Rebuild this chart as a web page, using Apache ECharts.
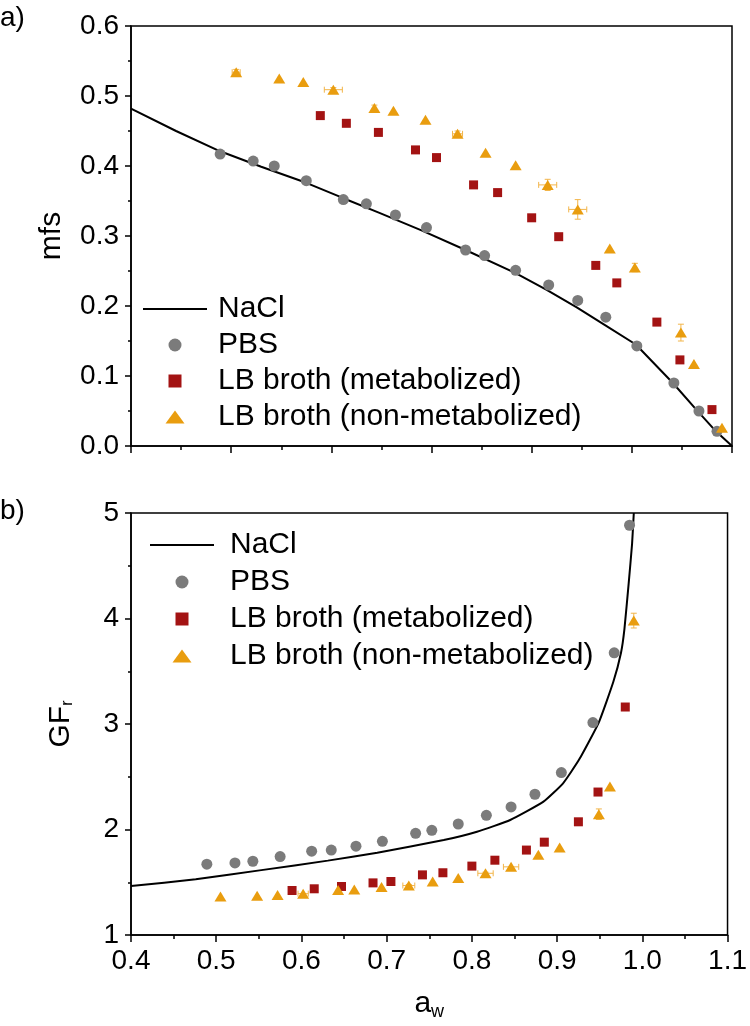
<!DOCTYPE html>
<html>
<head>
<meta charset="utf-8">
<script src="https://cdn.jsdelivr.net/npm/echarts@6/dist/echarts.min.js"></script>
<style>
html,body{margin:0;padding:0;background:#fff;}
#chart{width:750px;height:1026px;}
</style>
</head>
<body>
<div id="chart"></div>
<script>
// ---------- data ----------
const seriesNames = ['NaCl', 'PBS', 'LB broth (metabolized)', 'LB broth (non-metabolized)'];

const awPBS   = [0.489, 0.522, 0.543, 0.575, 0.612, 0.635, 0.664, 0.695, 0.734, 0.753, 0.784, 0.817, 0.846, 0.874, 0.905, 0.942, 0.967, 0.985];
const awMet   = [0.589, 0.615, 0.647, 0.684, 0.705, 0.742, 0.766, 0.800, 0.827, 0.864, 0.885, 0.925, 0.948, 0.980];
const awNon   = [0.505, 0.548, 0.572, 0.602, 0.643, 0.662, 0.694, 0.726, 0.754, 0.784, 0.816, 0.846, 0.878, 0.903, 0.949, 0.962, 0.990];

const mfsPBS  = [0.417, 0.407, 0.400, 0.379, 0.352, 0.346, 0.330, 0.312, 0.280, 0.272, 0.251, 0.230, 0.208, 0.184, 0.143, 0.090, 0.050, 0.021];
const mfsMet  = [0.472, 0.461, 0.448, 0.423, 0.412, 0.373, 0.362, 0.326, 0.299, 0.258, 0.233, 0.177, 0.123, 0.052];
const mfsNon  = [0.534, 0.525, 0.520, 0.509, 0.483, 0.479, 0.466, 0.446, 0.419, 0.401, 0.373, 0.338, 0.282, 0.255, 0.162, 0.117, 0.026];
const mfsNonErrX = [0.004, 0, 0, 0.009, 0, 0, 0, 0.005, 0, 0, 0.009, 0.009, 0, 0, 0, 0, 0];
const mfsNonErrY = [0.004, 0, 0, 0.003, 0.004, 0, 0, 0.004, 0, 0, 0.008, 0.014, 0, 0.006, 0.012, 0, 0];

const gfPBS   = [1.671, 1.683, 1.699, 1.743, 1.795, 1.805, 1.842, 1.888, 1.964, 1.992, 2.052, 2.134, 2.214, 2.334, 2.540, 3.014, 3.675, 4.884];
const gfMet   = [1.422, 1.438, 1.460, 1.494, 1.507, 1.570, 1.590, 1.653, 1.709, 1.805, 1.880, 2.073, 2.355, 3.161];
const gfNon   = [1.365, 1.373, 1.380, 1.392, 1.427, 1.431, 1.455, 1.469, 1.508, 1.540, 1.585, 1.646, 1.760, 1.830, 2.145, 2.407, 3.980];
const gfNonErrX = [0, 0, 0, 0.006, 0, 0, 0, 0.007, 0, 0, 0.009, 0.009, 0, 0, 0, 0, 0];
const gfNonErrY = [0, 0, 0, 0, 0, 0, 0, 0.010, 0, 0, 0.010, 0, 0, 0, 0.050, 0, 0.070];

const naclAwTop  = [0.400, 0.445, 0.489, 0.530, 0.575, 0.612, 0.648, 0.690, 0.734, 0.784, 0.815, 0.845, 0.874, 0.904, 0.941, 0.965, 0.984, 1.000];
const naclMfs    = [0.482, 0.450, 0.421, 0.399, 0.376, 0.354, 0.333, 0.308, 0.280, 0.247, 0.223, 0.198, 0.172, 0.145, 0.090, 0.051, 0.021, 0.000];
const naclAwBot  = [0.400, 0.476, 0.553, 0.631, 0.689, 0.767, 0.806, 0.845, 0.884, 0.907, 0.926, 0.949, 0.966, 0.975, 0.979, 0.984, 0.988, 0.990];
const naclGf     = [1.464, 1.528, 1.615, 1.705, 1.780, 1.900, 1.979, 2.090, 2.264, 2.438, 2.665, 3.016, 3.400, 3.676, 3.900, 4.333, 4.710, 5.000];

const xTicksTop   = ['0.4', '0.5', '0.6', '0.7', '0.8', '0.9', '1.0'];
const xTicksBot   = ['0.4', '0.5', '0.6', '0.7', '0.8', '0.9', '1.0', '1.1'];
const yTicksTop   = ['0.0', '0.1', '0.2', '0.3', '0.4', '0.5', '0.6'];
const yTicksBot   = ['1', '2', '3', '4', '5'];

// ---------- helpers ----------
const FONT = 'Liberation Sans, Arial, sans-serif';
const C_GREY = '#7b7b7b', C_RED = '#a31313', C_ORANGE = '#e99d0f', C_ERR = '#f2b54a';
const zip = (a, b) => a.map((v, i) => [v, b[i]]);
const zip4 = (a, b, c, d) => a.map((v, i) => [v, b[i], c[i], d[i]]);
const lookup = (arr, min, step) => v => { const i = Math.round((v - min) / step); return arr[i] !== undefined ? arr[i] : ''; };

function errRender(params, api) {
  const x = api.value(0), y = api.value(1), ex = api.value(2), ey = api.value(3);
  const ch = [];
  const st = { stroke: C_ERR, lineWidth: 1 };
  const cap = 3;
  if (ex > 0) {
    const p1 = api.coord([x - ex, y]), p2 = api.coord([x + ex, y]);
    ch.push({ type: 'line', shape: { x1: p1[0], y1: p1[1], x2: p2[0], y2: p2[1] }, style: st });
    ch.push({ type: 'line', shape: { x1: p1[0], y1: p1[1] - cap, x2: p1[0], y2: p1[1] + cap }, style: st });
    ch.push({ type: 'line', shape: { x1: p2[0], y1: p2[1] - cap, x2: p2[0], y2: p2[1] + cap }, style: st });
  }
  if (ey > 0) {
    const p1 = api.coord([x, y - ey]), p2 = api.coord([x, y + ey]);
    ch.push({ type: 'line', shape: { x1: p1[0], y1: p1[1], x2: p2[0], y2: p2[1] }, style: st });
    ch.push({ type: 'line', shape: { x1: p1[0] - cap, y1: p1[1], x2: p1[0] + cap, y2: p1[1] }, style: st });
    ch.push({ type: 'line', shape: { x1: p2[0] - cap, y1: p2[1], x2: p2[0] + cap, y2: p2[1] }, style: st });
  }
  return { type: 'group', children: ch };
}

const axisLine = { show: true, onZero: false, lineStyle: { color: '#000', width: 1.5 } };
const tickStyle = { color: '#000', width: 1.5 };
const labelStyle = { color: '#000', fontFamily: FONT, fontSize: 28 };

const legendIcons = [
  'path://M0,0H100V3H0Z',
  'circle',
  'path://M0,0H12V12H0Z',
  'path://M0,13L9.5,0L19,13Z'
];

function legendFor(top, left, pad, gap) {
  return {
    orient: 'vertical', left: left, top: top, padding: 0,
    itemWidth: 64, itemHeight: 13, itemGap: gap,
    selectedMode: false, symbolKeepAspect: true,
    data: seriesNames.map((n, i) => ({ name: n, icon: legendIcons[i] })),
    textStyle: { color: '#000', fontFamily: FONT, fontSize: 30, lineHeight: 30, padding: [0, 0, 0, pad] }
  };
}

const chart = echarts.init(document.getElementById('chart'), null, { renderer: 'canvas' });
const option = {
  animation: false,
  backgroundColor: '#fff',
  graphic: [
    { type: 'text', left: 0, top: 4, style: { text: 'a)', font: '28px ' + FONT, fill: '#000' } },
    { type: 'text', left: 0, top: 497, style: { text: 'b)', font: '28px ' + FONT, fill: '#000' } }
  ],
  grid: [
    { left: 131, width: 601, top: 26, height: 420, show: true, borderColor: '#000', borderWidth: 1.5, backgroundColor: 'transparent' },
    { left: 131, width: 601, top: 513, height: 422, show: true, borderColor: '#000', borderWidth: 1.5, backgroundColor: 'transparent' }
  ],
  legend: [legendFor(294, 143, 6, 6), legendFor(530, 150, 11, 7)],
  xAxis: [
    { type: 'value', gridIndex: 0, min: 0.4, max: 1.0, interval: 0.1,
      axisLine: axisLine, splitLine: { show: false },
      axisTick: { show: true, inside: false, length: 7, lineStyle: tickStyle },
      minorTick: { show: true, splitNumber: 2, length: 4, lineStyle: tickStyle },
      axisLabel: { show: false } },
    { type: 'value', gridIndex: 1, min: 0.4, max: 1.1, interval: 0.1,
      axisLine: axisLine, splitLine: { show: false },
      axisTick: { show: true, inside: false, length: 7, lineStyle: tickStyle },
      minorTick: { show: true, splitNumber: 2, length: 4, lineStyle: tickStyle },
      axisLabel: Object.assign({ margin: 12, formatter: lookup(xTicksBot, 0.4, 0.1) }, labelStyle),
      name: '{a|a}{s|w}', nameLocation: 'middle', nameGap: 52,
      nameTextStyle: { rich: { a: { fontFamily: FONT, fontSize: 30, color: '#000' }, s: { fontFamily: FONT, fontSize: 18, color: '#000', padding: [16, 0, 0, 0] } } } }
  ],
  yAxis: [
    { type: 'value', gridIndex: 0, min: 0, max: 0.6, interval: 0.1,
      axisLine: axisLine, splitLine: { show: false },
      axisTick: { show: true, inside: false, length: 6, lineStyle: tickStyle },
      minorTick: { show: true, splitNumber: 2, length: 3, lineStyle: tickStyle },
      axisLabel: Object.assign({ margin: 12, formatter: lookup(yTicksTop, 0, 0.1) }, labelStyle),
      name: 'mfs', nameLocation: 'middle', nameGap: 64,
      nameTextStyle: { fontFamily: FONT, fontSize: 30, color: '#000' } },
    { type: 'value', gridIndex: 1, min: 1, max: 5, interval: 1,
      axisLine: axisLine, splitLine: { show: false },
      axisTick: { show: true, inside: false, length: 6, lineStyle: tickStyle },
      minorTick: { show: true, splitNumber: 2, length: 3, lineStyle: tickStyle },
      axisLabel: Object.assign({ margin: 12, formatter: lookup(yTicksBot, 1, 1) }, labelStyle),
      name: 'GF{s|r}', nameLocation: 'middle', nameGap: 55,
      nameTextStyle: { fontFamily: FONT, fontSize: 30, color: '#000', rich: { s: { fontFamily: FONT, fontSize: 16, color: '#000', padding: [14, 0, 0, 0] } } } }
  ],
  series: [
    // ---- panel a ----
    { name: 'NaCl', type: 'line', xAxisIndex: 0, yAxisIndex: 0, data: zip(naclAwTop, naclMfs),
      symbol: 'none', smooth: false, lineStyle: { color: '#000', width: 2 }, itemStyle: { color: '#000' }, z: 3 },
    { name: 'errTop', type: 'custom', xAxisIndex: 0, yAxisIndex: 0, renderItem: errRender,
      data: zip4(awNon, mfsNon, mfsNonErrX, mfsNonErrY), z: 2, silent: true },
    { name: 'PBS', type: 'scatter', xAxisIndex: 0, yAxisIndex: 0, data: zip(awPBS, mfsPBS),
      symbol: 'circle', symbolSize: 11, itemStyle: { color: C_GREY, opacity: 1 }, z: 4 },
    { name: 'LB broth (metabolized)', type: 'scatter', xAxisIndex: 0, yAxisIndex: 0, data: zip(awMet, mfsMet),
      symbol: 'rect', symbolSize: 9, itemStyle: { color: C_RED, opacity: 1 }, z: 4 },
    { name: 'LB broth (non-metabolized)', type: 'scatter', xAxisIndex: 0, yAxisIndex: 0, data: zip(awNon, mfsNon),
      symbol: 'triangle', symbolSize: [12, 10], itemStyle: { color: C_ORANGE, opacity: 1 }, z: 4 },
    // ---- panel b ----
    { name: 'NaCl', type: 'line', xAxisIndex: 1, yAxisIndex: 1, data: zip(naclAwBot, naclGf),
      symbol: 'none', smooth: 0.15, lineStyle: { color: '#000', width: 2 }, itemStyle: { color: '#000' }, z: 3 },
    { name: 'errBot', type: 'custom', xAxisIndex: 1, yAxisIndex: 1, renderItem: errRender,
      data: zip4(awNon, gfNon, gfNonErrX, gfNonErrY), z: 2, silent: true },
    { name: 'PBS', type: 'scatter', xAxisIndex: 1, yAxisIndex: 1, data: zip(awPBS, gfPBS),
      symbol: 'circle', symbolSize: 11, itemStyle: { color: C_GREY, opacity: 1 }, z: 4 },
    { name: 'LB broth (metabolized)', type: 'scatter', xAxisIndex: 1, yAxisIndex: 1, data: zip(awMet, gfMet),
      symbol: 'rect', symbolSize: 9, itemStyle: { color: C_RED, opacity: 1 }, z: 4 },
    { name: 'LB broth (non-metabolized)', type: 'scatter', xAxisIndex: 1, yAxisIndex: 1, data: zip(awNon, gfNon),
      symbol: 'triangle', symbolSize: [12, 10], itemStyle: { color: C_ORANGE, opacity: 1 }, z: 4 }
  ]
};
chart.setOption(option);
</script>
</body>
</html>
